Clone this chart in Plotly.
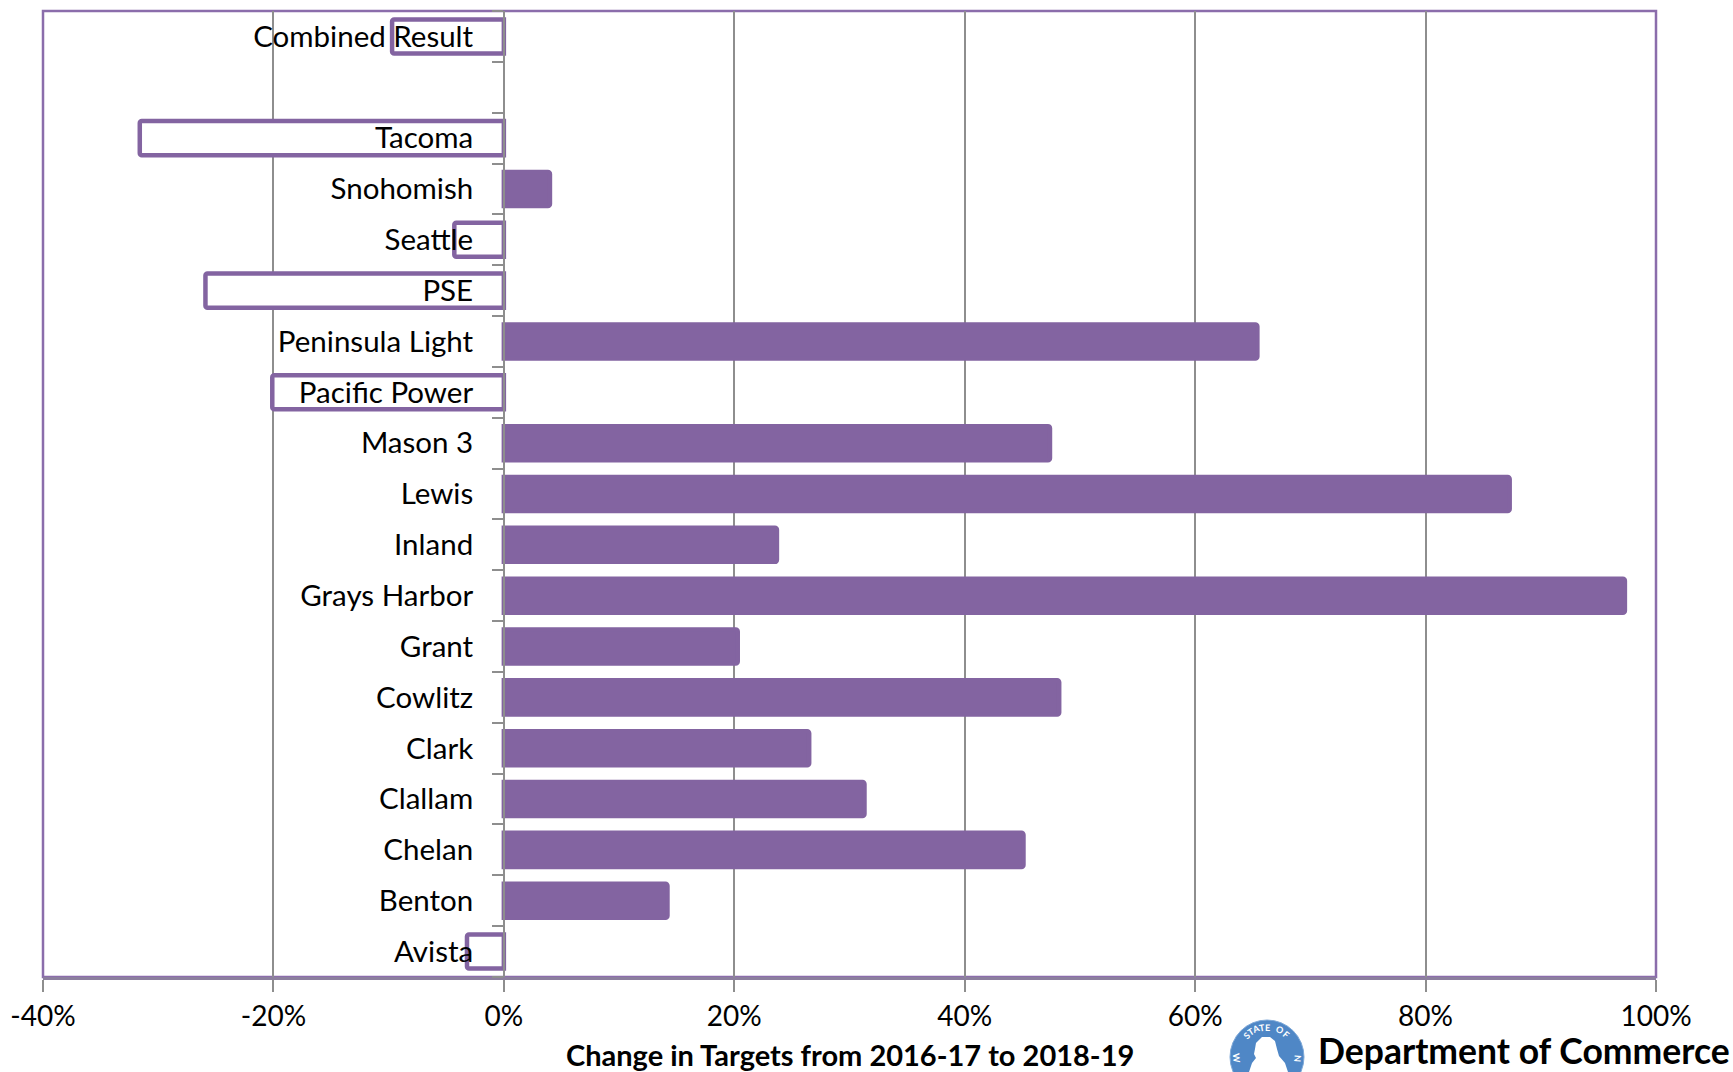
import math
import plotly.graph_objects as go

# Bottom-to-top category order, as drawn on the y axis
categories = ["Avista", "Benton", "Chelan", "Clallam", "Clark", "Cowlitz", "Grant",
              "Grays Harbor", "Inland", "Lewis", "Mason 3", "Pacific Power",
              "Peninsula Light", "PSE", "Seattle", "Snohomish", "Tacoma", " ",
              "Combined Result"]
values = [-3.2, 14.2, 45.1, 31.3, 26.5, 48.2, 20.3, 97.3, 23.7, 87.3, 47.4, -20.1,
          65.4, -25.9, -4.3, 4.0, -31.6, None, -9.7]
x_tick_values = [-40, -20, 0, 20, 40, 60, 80, 100]
x_tick_labels = ["-40%", "-20%", "0%", "20%", "40%", "60%", "80%", "100%"]
x_title = "Change in Targets from 2016-17 to 2018-19"
logo_text = "Department of Commerce"

PURPLE = "#8364A1"
FRAME = "#8B6DAB"
GRID = "#8E8E8E"
BOTTOM = "#8C7F9E"
SEAL = "#4F87C6"
FONT = "Lato, Carlito, sans-serif"
W, H = 1733, 1072
L, R, T, B = 43, 77, 11, 95
PW, PH = W - L - R, H - T - B


def paper_x(x):
    return (x - L) / PW


def paper_y(y):
    return (H - B - y) / PH


fills = [PURPLE if (v is not None and v > 0) else "white" for v in values]

fig = go.Figure(go.Bar(
    x=values, y=categories, orientation="h",
    marker=dict(color=fills, line=dict(color=PURPLE, width=4.5), cornerradius=2),
    hoverinfo="skip",
))

SEAL_CX, SEAL_CY, SEAL_R = 1267, 1057, 37
silhouette = [(1249, 1072), (1252, 1063), (1256, 1058), (1254, 1054), (1255, 1049),
              (1256, 1043), (1262, 1037), (1270, 1037), (1275, 1041), (1277, 1049),
              (1279, 1056), (1285, 1063), (1288, 1072)]

shapes = [
    dict(type="rect", xref="x domain", yref="y domain", x0=0, x1=1, y0=0, y1=1,
         line=dict(color=FRAME, width=2.5), layer="below"),
    dict(type="circle", xref="paper", yref="paper",
         x0=paper_x(SEAL_CX - SEAL_R), x1=paper_x(SEAL_CX + SEAL_R),
         y0=paper_y(SEAL_CY + SEAL_R), y1=paper_y(SEAL_CY - SEAL_R),
         fillcolor=SEAL, line=dict(color="#7FA9D8", width=1)),
    dict(type="path", xref="paper", yref="paper",
         path=" ".join(
             ("M" if i == 0 else "L") + f" {paper_x(x):.5f} {paper_y(y):.5f}"
             for i, (x, y) in enumerate(silhouette)) + " Z",
         fillcolor="white", line=dict(width=0)),
]

annotations = [
    dict(text=logo_text, x=paper_x(1316), y=paper_y(1050), xref="paper", yref="paper",
         xanchor="left", yanchor="middle", showarrow=False,
         font=dict(family=FONT, size=35.5, color="#000000", weight="bold")),
    dict(text=x_title, x=0.5, y=paper_y(1054), xref="paper", yref="paper",
         xanchor="center", yanchor="middle", showarrow=False,
         font=dict(family=FONT, size=29, color="#000000", weight="bold")),
]
seal_letters = [("S", -43, -43), ("T", -32, -32), ("A", -21, -21), ("T", -10, -10),
                ("E", 1, 1), ("O", 25, 25), ("F", 40, 40), ("W", -92, 85), ("N", 92, -85)]
for ch, pos, rot in seal_letters:
    a = math.radians(pos)
    cx = SEAL_CX + 30 * math.sin(a)
    cy = SEAL_CY - 30 * math.cos(a)
    annotations.append(dict(text=ch, x=paper_x(cx), y=paper_y(cy), xref="paper", yref="paper",
                            showarrow=False, textangle=rot, xanchor="center", yanchor="middle",
                            font=dict(family=FONT, size=9, color="white", weight="bold")))

fig.update_layout(
    width=W, height=H, autosize=False,
    margin=dict(l=L, r=R, t=T, b=B),
    paper_bgcolor="white", plot_bgcolor="white",
    font=dict(family=FONT, color="#000000", size=28),
    bargap=0.33, showlegend=False,
    shapes=shapes, annotations=annotations,
    xaxis=dict(
        range=[-40, 100], tickmode="array", tickvals=x_tick_values, ticktext=x_tick_labels,
        showgrid=True, gridcolor=GRID, gridwidth=1.6, zeroline=False, automargin=False,
        showline=True, linecolor=BOTTOM, linewidth=3,
        ticks="outside", ticklen=12, tickwidth=1.6, tickcolor=GRID,
        tickfont=dict(size=28, family=FONT),
    ),
    yaxis=dict(
        type="category", categoryorder="array", categoryarray=categories,
        tickmode="array", tickvals=categories, ticktext=categories,
        anchor="free", position=40 / 140, side="left", automargin=False,
        showgrid=False, zeroline=False,
        showline=True, linecolor=GRID, linewidth=1.6, layer="above traces",
        ticks="outside", ticklen=11, tickwidth=1.6, tickcolor=GRID, tickson="boundaries",
        ticklabelstandoff=24,
        tickfont=dict(size=29.5, family=FONT),
    ),
)

fig.write_html("out.html", config={"displayModeBar": False},
               post_script="document.body.style.margin='0';")
